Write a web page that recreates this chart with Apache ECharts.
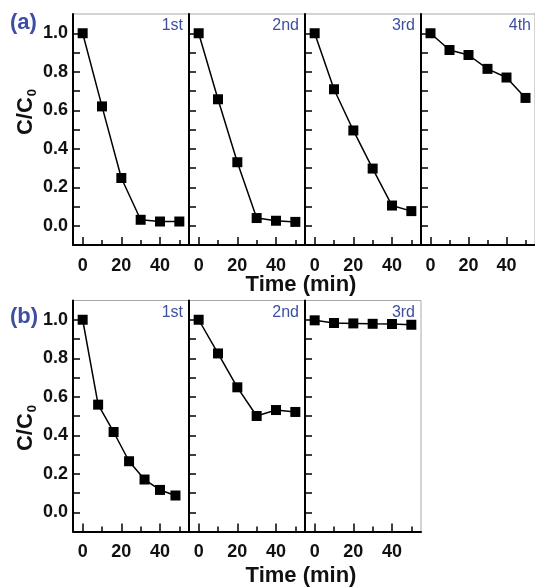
<!DOCTYPE html>
<html><head><meta charset="utf-8">
<script src="https://cdn.jsdelivr.net/npm/echarts@6/dist/echarts.min.js"></script>
<style>html,body{margin:0;padding:0;background:#fff}#c{width:535px;height:587px}</style>
</head><body><div id="c"></div>
<script>
// ---- data ----
const timeA = [0, 10, 20, 30, 40, 50];
const timeB1 = [0, 8, 16, 24, 32, 40, 48];
const a1 = [1.0, 0.62, 0.248, 0.031, 0.022, 0.022];
const a2 = [1.0, 0.657, 0.33, 0.04, 0.026, 0.02];
const a3 = [1.0, 0.709, 0.495, 0.297, 0.105, 0.076];
const a4 = [1.0, 0.913, 0.887, 0.815, 0.77, 0.664];
const b1 = [1.0, 0.559, 0.417, 0.265, 0.17, 0.116, 0.087];
const b2 = [1.0, 0.825, 0.649, 0.5, 0.531, 0.521];
const b3 = [0.997, 0.983, 0.981, 0.979, 0.978, 0.974];
const panelLabelsA = ['1st', '2nd', '3rd', '4th'];
const panelLabelsB = ['1st', '2nd', '3rd'];
const xLabelTicks = [0, 20, 40];
const xMinorTicks = [10, 30, 50];
const yLabelTicks = [0, 0.2, 0.4, 0.6, 0.8, 1.0];
const yAllTicks = [0, 0.1, 0.2, 0.3, 0.4, 0.5, 0.6, 0.7, 0.8, 0.9, 1.0];

const seriesA = [[timeA, a1], [timeA, a2], [timeA, a3], [timeA, a4]];
const seriesB = [[timeB1, b1], [timeA, b2], [timeA, b3]];

// ---- layout ----
const lefts = [73, 189, 305, 421];
const W = 116, H = 231;
const topA = 14, topB = 300.5;
const blue = '#3e4fa2';
const font = 'Liberation Sans, Arial, sans-serif';

const grid = [], xAxis = [], yAxis = [], series = [], graphic = [];
function addPanel(top, i, data, label, showY) {
  const gi = grid.length;
  grid.push({left: lefts[i], top: top, width: W, height: H, show: true,
    borderColor: '#a8a8a8', borderWidth: 1, backgroundColor: 'transparent', containLabel: false});
  const xi = xAxis.length;
  xAxis.push({type: 'value', gridIndex: gi, position: 'bottom', min: -5, max: 55,
    axisLine: {onZero: false, lineStyle: {color: '#000', width: 2}},
    axisTick: {inside: true, length: 8, customValues: xLabelTicks, lineStyle: {color: '#000', width: 1.5}},
    axisLabel: {customValues: xLabelTicks, fontSize: 18, fontWeight: 'bold', color: '#111', margin: 12, fontFamily: font},
    splitLine: {show: false}});
  xAxis.push({type: 'value', gridIndex: gi, position: 'bottom', min: -5, max: 55,
    axisLine: {show: false, onZero: false},
    axisTick: {inside: true, length: 5, customValues: xMinorTicks, lineStyle: {color: '#000', width: 1.5}},
    axisLabel: {show: false}, splitLine: {show: false}});
  yAxis.push({type: 'value', gridIndex: gi, min: -0.1, max: 1.1,
    axisLine: {show: true, onZero: false, lineStyle: {color: '#000', width: 2}},
    axisTick: {show: true, inside: true, length: 7, customValues: yAllTicks, lineStyle: {color: '#000', width: 1.5}},
    axisLabel: {show: showY, customValues: yLabelTicks, formatter: v => v.toFixed(1), fontSize: 18, fontWeight: 'bold', color: '#111', margin: 5, fontFamily: font},
    splitLine: {show: false}});
  series.push({type: 'line', xAxisIndex: xi, yAxisIndex: gi,
    data: data[0].map((t, k) => [t, data[1][k]]),
    symbol: 'rect', symbolSize: 10, itemStyle: {color: '#000'},
    lineStyle: {color: '#000', width: 1.5}, animation: false});
  graphic.push({type: 'text', right: 535 - (lefts[i] + W - 6), top: top + 4,
    style: {text: label, fill: blue, fontSize: 16, fontFamily: font}});
}
seriesA.forEach((d, i) => addPanel(topA, i, d, panelLabelsA[i], i === 0));
seriesB.forEach((d, i) => addPanel(topB, i, d, panelLabelsB[i], i === 0));

graphic.push({type: 'text', left: 10, top: 12, style: {text: '(a)', fill: blue, fontSize: 22, fontWeight: 'bold', fontFamily: font}});
graphic.push({type: 'text', left: 10, top: 306, style: {text: '(b)', fill: blue, fontSize: 22, fontWeight: 'bold', fontFamily: font}});
const titleStyle = {fill: '#111', fontSize: 22, fontWeight: 'bold', fontFamily: font, align: 'center', verticalAlign: 'middle'};
graphic.push({type: 'text', x: 301, y: 285, style: Object.assign({text: 'Time (min)'}, titleStyle)});
graphic.push({type: 'text', x: 301, y: 576, style: Object.assign({text: 'Time (min)'}, titleStyle)});
const rich = {a: {fontSize: 22, fontWeight: 'bold', fill: '#111', fontFamily: font},
              s: {fontSize: 13, fontWeight: 'bold', fill: '#111', fontFamily: font, padding: [12, 0, 0, 1]}};
graphic.push({type: 'text', x: 26, y: 112, rotation: Math.PI / 2,
  style: {text: '{a|C/C}{s|0}', rich: rich, align: 'center', verticalAlign: 'middle'}});
graphic.push({type: 'text', x: 26, y: 428, rotation: Math.PI / 2,
  style: {text: '{a|C/C}{s|0}', rich: rich, align: 'center', verticalAlign: 'middle'}});

const chart = echarts.init(document.getElementById('c'), null, {renderer: 'canvas'});
chart.setOption({animation: false, grid, xAxis, yAxis, series, graphic});
</script></body></html>
